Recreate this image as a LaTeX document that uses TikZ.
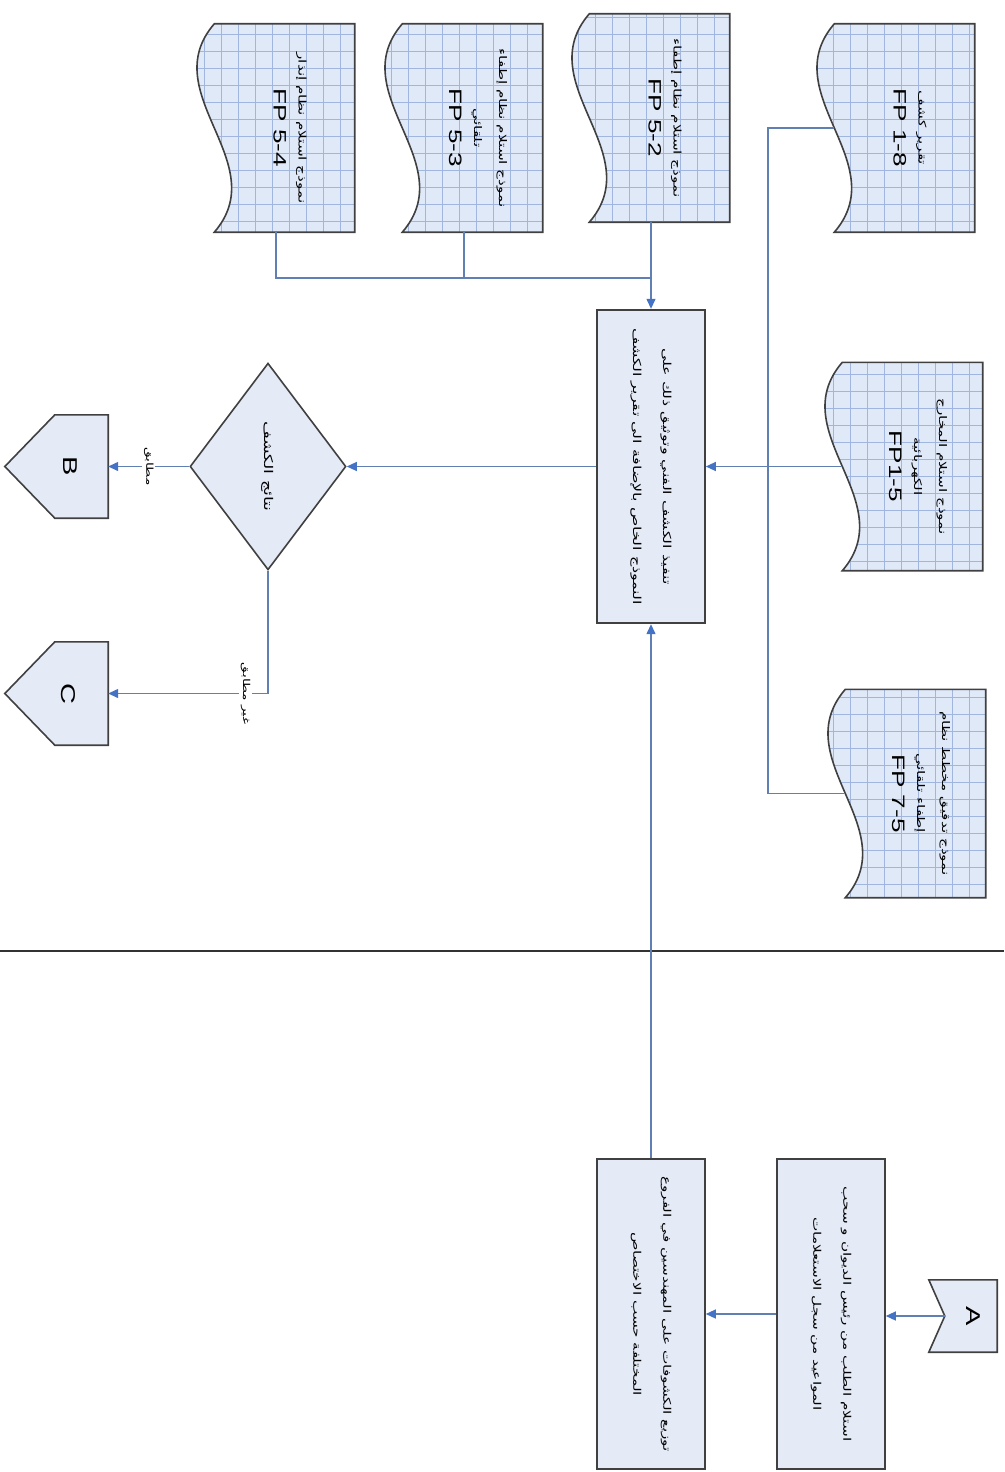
\documentclass[tikz,border=0pt]{standalone}
\usepackage{fontspec}
\setmainfont{Liberation Sans}
\newfontfamily\arabicfont[Script=Arabic]{DejaVu Sans}
\TeXXeTstate=1
\usetikzlibrary{shapes.geometric, arrows.meta, positioning, calc}
\definecolor{boxfill}{RGB}{228,234,246}
\definecolor{docfill}{RGB}{224,233,248}
\definecolor{gridblue}{RGB}{160,182,222}
\definecolor{edgegray}{RGB}{64,64,64}
\definecolor{flowblue}{RGB}{96,128,180}
\definecolor{tipblue}{RGB}{68,114,196}
\newcommand{\artxt}[1]{{\arabicfont\beginR #1\endR}}
\newcommand{\fpfont}{\fontsize{18}{26}\selectfont}

\begin{document}
\begin{tikzpicture}[x=1pt, y=-1pt,
    rot/.style={rotate=-90, xscale=1.45},
    proc/.style={rot, draw=edgegray, fill=boxfill, line width=1.6pt, align=center, inner sep=0pt, minimum height=108pt, font=\fontsize{10.5}{30}\selectfont},
    decision/.style={rot, diamond, draw=edgegray, fill=boxfill, line width=1.6pt, inner sep=0pt, minimum width=142.8pt, minimum height=156pt, font=\fontsize{12}{16}\selectfont},
    docbox/.style={inner sep=0pt, minimum width=157pt, minimum height=208pt},
    doctext/.style={rot, align=center, inner sep=0pt, font=\fontsize{10.5}{25}\selectfont},
    connbox/.style={inner sep=0pt, minimum width=53pt, minimum height=103pt},
    letter/.style={rot, inner sep=0pt, font=\fontsize{20}{24}\selectfont},
    shapeline/.style={draw=edgegray, fill=boxfill, line width=1.6pt},
    docline/.style={draw=edgegray, fill=docfill, line width=1.6pt},
    gridline/.style={draw=gridblue, line width=0.6pt},
    line/.style={draw=flowblue, line width=1.3pt},
    flow/.style={line, -{Triangle[length=10pt, width=9pt, color=tipblue]}},
    lbl/.style={rot, fill=white, inner sep=2pt, font=\fontsize{9.5}{12}\selectfont}]
    \useasboundingbox (0,0) rectangle (1004,1472);

    % Lane divider
    \draw[line width=1.8pt, black!80] (0,951) -- (1004,951);

    % Incoming connector
    \node[connbox, minimum width=68pt, minimum height=72pt] (Ain) at (963,1316) {};
    \coordinate (Anotch) at ([xshift=16pt]Ain.west);
    \path[shapeline] (Ain.north west) -- (Ain.north east) -- (Ain.south east) -- (Ain.south west) -- (Anotch) -- cycle;
    \node[letter] (Alabel) at (973,1316) {A};

    % Process steps
    \node[proc, minimum width=213.8pt] (req) at (831,1314) {\artxt{استلام الطلب من رئيس الديوان و سحب}\\\artxt{المواعيد من سجل الاستعلامات}};
    \node[proc, minimum width=213.8pt] (dist) at (651,1314) {\artxt{توزيع الكشوفات على المهندسين في الفروع}\\\artxt{المختلفة حسب الاختصاص}};
    \node[proc, minimum width=215.9pt, font=\fontsize{11}{30}\selectfont] (check) at (651,466.5) {\artxt{تنفيذ الكشف الفني وتوثيق ذلك على}\\\artxt{النموذج الخاص بالإضافة الى تقرير الكشف}};
    \node[decision] (res) at (268,466.5) {\artxt{نتائج الكشف}};

    % Outgoing connectors
    \node[connbox] (Bbox) at (81.5,466.5) {};
    \path[shapeline] (Bbox.north east) -- (Bbox.south east) -- (Bbox.south west) -- ([xshift=-50pt]Bbox.west) -- (Bbox.north west) -- cycle;
    \node[letter] (Blabel) at (70,466.5) {B};
    \node[connbox] (Cbox) at (81.5,693.5) {};
    \path[shapeline] (Cbox.north east) -- (Cbox.south east) -- (Cbox.south west) -- ([xshift=-50pt]Cbox.west) -- (Cbox.north west) -- cycle;
    \node[letter] (Clabel) at (68,693.5) {C};

    % Documents
    \node[docbox] (fp18) at (896,128) {};
    \node[docbox] (fp15) at (904,466.5) {};
    \node[docbox] (fp75) at (907,793.5) {};
    \node[docbox] (fp52) at (651,118) {};
    \node[docbox] (fp53) at (464,128) {};
    \node[docbox] (fp54) at (276,128) {};
    \foreach \dname in {fp18,fp15,fp75,fp52,fp53,fp54}{
        \path[docline, path picture={\draw[gridline, step=17pt] (path picture bounding box.south west) grid (path picture bounding box.north east);}]
            ([xshift=17pt]\dname.north west) -- (\dname.north east) -- (\dname.south east) -- ([xshift=17pt]\dname.south west)
            .. controls ($([xshift=17pt]\dname.south west)!1/3!([xshift=17pt]\dname.north west)+(60pt,0)$)
            and ($([xshift=17pt]\dname.south west)!2/3!([xshift=17pt]\dname.north west)+(-60pt,0)$) .. ([xshift=17pt]\dname.north west) -- cycle;
    }
    \node[doctext] (fp18t) at ([xshift=14pt]fp18.center) {\artxt{تقرير كشف}\\{\fpfont FP 1-8}};
    \node[doctext] (fp15t) at ([xshift=14pt]fp15.center) {\artxt{نموذج استلام المخارج}\\\artxt{الكهربائية}\\{\fpfont FP1-5}};
    \node[doctext] (fp75t) at ([xshift=14pt]fp75.center) {\artxt{نموذج تدقيق مخطط نظام}\\\artxt{إطفاء تلقائي}\\{\fpfont FP 7-5}};
    \node[doctext] (fp52t) at ([xshift=14pt]fp52.center) {\artxt{نموذج استلام نظام إطفاء}\\{\fpfont FP 5-2}};
    \node[doctext] (fp53t) at ([xshift=14pt]fp53.center) {\artxt{نموذج استلام نظام إطفاء}\\\artxt{تلقائي}\\{\fpfont FP 5-3}};
    \node[doctext] (fp54t) at ([xshift=14pt]fp54.center) {\artxt{نموذج استلام نظام إنذار}\\{\fpfont FP 5-4}};

    % Document links
    \coordinate (join) at (651,278);
    \coordinate (bus) at (768,466.5);
    \draw[line] (fp54.south) |- (join);
    \draw[line] (fp53.south) -- (fp53.south |- join);
    \draw[flow] (fp52.south) -- (check.west);
    \draw[line] ([xshift=17pt]fp18.west) -| (bus |- fp75.west) -- ([xshift=17pt]fp75.west);
    \draw[line] ([xshift=17pt]fp15.west) -- (bus);
    \draw[flow] (bus) -- (check.north);

    % Flow
    \draw[flow] (Anotch) -- (Anotch -| req.north);
    \draw[flow] (req.south) -- (dist.north);
    \draw[flow] (dist.west) -- (check.east);
    \draw[flow] (check.south) -- (res.north);
    \draw[flow] (res.south) -- node[lbl] (okl) {\artxt{مطابق}} (Bbox.east);
    \draw[flow] (res.east) |- node[lbl, pos=0.57] (nokl) {\artxt{غير مطابق}} (Cbox.east);
\end{tikzpicture}
\end{document}
